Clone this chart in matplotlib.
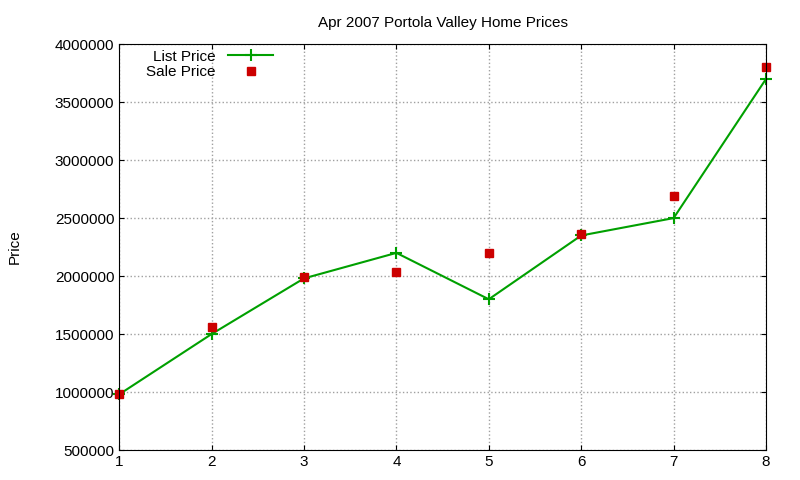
import matplotlib
matplotlib.use("Agg")
import matplotlib.pyplot as plt

x = [1, 2, 3, 4, 5, 6, 7, 8]
list_price = [980000, 1500000, 1980000, 2200000, 1800000, 2350000, 2500000, 3700000]
sale_price = [980000, 1560000, 1990000, 2035000, 2200000, 2360000, 2690000, 3800000]

plt.rcParams['font.family'] = ['Liberation Sans', 'DejaVu Sans']
fig = plt.figure(figsize=(8, 4.8), dpi=100)
ax = fig.add_axes([0.149, 0.0625, 0.8085, 0.8455])
ax.plot(x, list_price, color='#00a000', lw=1.5, marker='+', ms=8, mew=1.5, label='List Price', clip_on=False)
ax.plot(x, sale_price, ls='none', color='#cc0000', marker='s', ms=6, label='Sale Price', clip_on=False)
ax.set_xlim(1, 8)
ax.set_ylim(500000, 4000000)
ax.set_xticks(x)
ax.set_yticks(range(500000, 4000001, 500000))
ax.ticklabel_format(style='plain', axis='y')
ax.grid(True, color='#a0a0a0', ls=':', lw=1)
ax.tick_params(direction='in', top=True, right=True, labelsize=11)
ax.set_ylabel('Price', fontsize=11, labelpad=24)
ax.set_title('Apr 2007 Portola Valley Home Prices', fontsize=11, pad=12)
ax.legend(loc='upper left', markerfirst=False, frameon=False, fontsize=11,
          bbox_to_anchor=(0.02, 1.02), handlelength=3, labelspacing=0.1)
fig.savefig('out.png')
